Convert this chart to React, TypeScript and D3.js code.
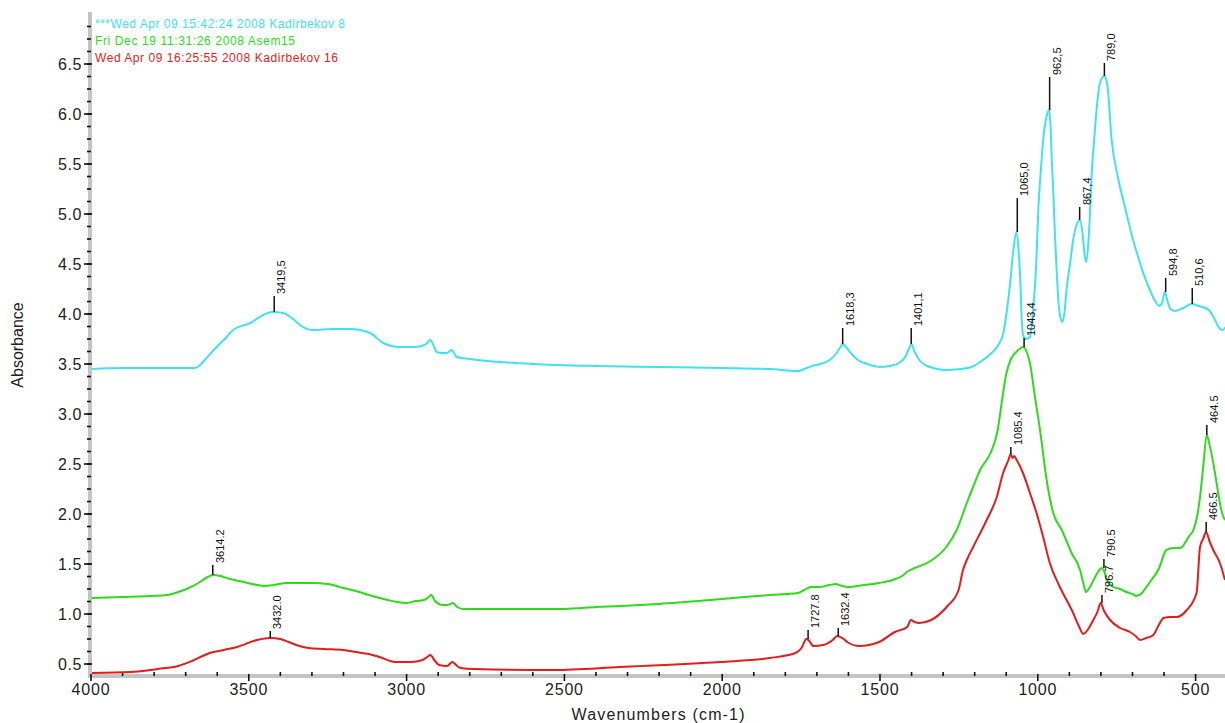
import React from "react";
import * as d3 from "d3";

// ---- data ----
const cyanWn = [4000,3900,3800,3700,3670,3634,3602,3570,3550,3496,3454,3427,3391,3360,3338,3301,3232,3179,3116,3074,3021,2975,2952,2935,2926,2915,2905,2888,2873,2857,2841,2800,2704,2600,2400,2200,2000,1850,1760,1740,1715,1690,1660,1640,1625,1618,1605,1590,1570,1540,1500,1470,1440,1420,1410,1401,1390,1373,1350,1332,1290,1247,1210,1183,1150,1125,1110,1099,1088,1078,1068,1060,1055,1051,1046,1038,1025,1014,1005,998,990,983,972,965,960,956,950,945,940,935,928,922,915,909,898,888,876,867,858,852,846,838,829,820,813,803,790,780,766,745,724,698,680,666,650,632,615,605,598,590,580,565,540,512,490,470,455,440,425,415,405];
const cyanAbs = [3.45,3.46,3.46,3.46,3.46,3.56,3.67,3.77,3.84,3.91,3.99,4.02,4.01,3.95,3.89,3.84,3.85,3.85,3.81,3.71,3.67,3.67,3.68,3.71,3.74,3.69,3.62,3.61,3.61,3.64,3.57,3.55,3.52,3.50,3.48,3.47,3.46,3.45,3.43,3.45,3.48,3.50,3.54,3.60,3.67,3.70,3.66,3.60,3.54,3.50,3.47,3.48,3.51,3.57,3.64,3.70,3.62,3.53,3.48,3.46,3.44,3.45,3.47,3.52,3.60,3.69,3.80,4.01,4.30,4.62,4.82,4.60,4.30,3.95,3.78,3.75,3.77,4.07,4.50,5.07,5.45,5.74,5.98,6.04,5.90,5.57,5.15,4.74,4.42,4.14,3.96,3.92,4.03,4.24,4.50,4.74,4.90,4.94,4.80,4.60,4.52,4.80,5.41,5.80,6.07,6.31,6.38,6.30,5.74,5.35,5.07,4.74,4.55,4.41,4.28,4.15,4.08,4.12,4.22,4.14,4.05,4.03,4.06,4.10,4.08,4.06,4.03,3.95,3.86,3.84,3.87];

const greenWn = [4000,3900,3812,3760,3724,3690,3660,3630,3614,3590,3560,3530,3490,3450,3420,3380,3300,3250,3200,3150,3098,3060,3030,3000,2970,2945,2930,2922,2910,2885,2870,2853,2840,2820,2785,2500,2400,2200,2000,1850,1760,1740,1720,1690,1660,1640,1620,1600,1550,1503,1460,1430,1410,1390,1345,1290,1257,1225,1200,1183,1150,1127,1115,1100,1085,1065,1046,1035,1025,1009,993,972,951,924,893,866,855,847,835,820,805,798,790,780,761,740,719,700,688,670,656,640,614,600,593,570,549,520,507,495,486,475,465,455,444,433,423,415,407];
const greenAbs = [1.16,1.17,1.18,1.19,1.22,1.26,1.31,1.37,1.39,1.38,1.35,1.33,1.30,1.28,1.29,1.31,1.31,1.30,1.26,1.22,1.17,1.14,1.12,1.11,1.13,1.14,1.17,1.19,1.13,1.09,1.09,1.11,1.07,1.05,1.05,1.05,1.07,1.10,1.15,1.19,1.21,1.24,1.27,1.27,1.29,1.30,1.28,1.27,1.29,1.31,1.34,1.38,1.43,1.46,1.52,1.67,1.84,2.11,2.31,2.44,2.61,2.84,3.10,3.40,3.55,3.63,3.67,3.62,3.51,3.17,2.84,2.34,2.01,1.84,1.61,1.44,1.30,1.22,1.27,1.36,1.44,1.46,1.43,1.33,1.27,1.25,1.22,1.20,1.18,1.21,1.27,1.34,1.47,1.60,1.64,1.66,1.66,1.78,1.84,1.98,2.17,2.50,2.79,2.68,2.51,2.30,2.11,2.00,1.94];

const redWn = [4000,3875,3788,3724,3680,3624,3580,3537,3474,3432,3400,3374,3340,3311,3262,3200,3161,3120,3086,3036,2986,2950,2935,2925,2910,2897,2872,2855,2840,2829,2785,2534,2324,2008,1850,1768,1749,1733,1727,1711,1680,1650,1636,1620,1604,1566,1503,1453,1414,1402,1390,1376,1338,1289,1251,1237,1225,1205,1162,1130,1110,1093,1086,1080,1075,1067,1047,1025,1004,983,962,930,888,870,856,840,824,810,801,790,771,739,708,690,676,656,634,615,602,580,560,528,497,486,475,467,455,444,423,407];
const redAbs = [0.41,0.42,0.45,0.48,0.53,0.61,0.64,0.67,0.74,0.76,0.75,0.72,0.68,0.66,0.65,0.64,0.62,0.60,0.57,0.52,0.52,0.54,0.57,0.59,0.53,0.49,0.48,0.52,0.48,0.46,0.45,0.44,0.47,0.52,0.56,0.61,0.66,0.75,0.74,0.68,0.69,0.74,0.78,0.76,0.72,0.68,0.72,0.82,0.87,0.94,0.92,0.91,0.94,1.07,1.24,1.44,1.54,1.67,1.94,2.17,2.41,2.54,2.60,2.56,2.58,2.54,2.41,2.21,2.01,1.77,1.51,1.27,1.01,0.88,0.80,0.85,0.94,1.03,1.11,1.03,0.94,0.86,0.82,0.78,0.74,0.76,0.79,0.90,0.96,0.97,0.97,1.04,1.21,1.67,1.76,1.82,1.72,1.64,1.51,1.34];

// peak labels: series index, wavenumber, absorbance at peak, marker top, text
const peakSeries = [0,0,0,0,0,0,0,0,0,1,1,1,1,2,2,2,2,2,2];
const peakWn = [3419.5,1618.3,1401.1,1065.0,962.5,867.4,789.0,594.8,510.6,3614.2,1043.4,790.5,464.5,3432.0,1727.8,1632.4,1085.4,796.7,466.5];
const peakAbs = [4.02,3.70,3.70,4.82,6.04,4.94,6.38,4.22,4.10,1.39,3.67,1.46,2.79,0.76,0.75,0.78,2.60,1.11,1.82];
const peakTop = [4.18,3.86,3.86,5.16,6.37,5.07,6.51,4.36,4.26,1.49,3.76,1.55,2.89,0.83,0.84,0.86,2.67,1.19,1.92];
const peakText = ["3419,5","1618,3","1401,1","1065,0","962,5","867,4","789,0","594,8","510,6","3614.2","1043,4","790.5","464.5","3432.0","1727.8","1632.4","1085.4","796.7","466.5"];

const legendTexts = ["***Wed Apr 09 15:42:24 2008 Kadirbekov 8","Fri Dec 19 11:31:26 2008  Asem15","Wed Apr 09 16:25:55 2008 Kadirbekov 16"];
const yTicks = [0.5,1.0,1.5,2.0,2.5,3.0,3.5,4.0,4.5,5.0,5.5,6.0,6.5];
const xTicks = [4000,3500,3000,2500,2000,1500,1000,500];

const colors = ["#3de3ee", "#2ddc18", "#e41c1c"];
const FONT = "'Liberation Sans', Arial, sans-serif";

export default function App() {
  const W = 1225, H = 723;
  const x = d3.scaleLinear().domain([4000, 400]).range([91, 91 + 3600 * 0.3156]);
  const y = d3.scaleLinear().domain([0.5, 6.5]).range([664, 64]);
  const series = [[cyanWn, cyanAbs], [greenWn, greenAbs], [redWn, redAbs]];
  const line = d3.line<[number, number]>().x(d => x(d[0])).y(d => y(d[1])).curve(d3.curveMonotoneX);

  const minorY = d3.range(0, 53).map(i => 0.375 + i * 0.125).filter(v => y(v) > 12 && y(v) < 674);
  const minorX = d3.range(4000, 399, -100).filter(v => v % 500 !== 0);
  const legendLen = [250, 200, 243];

  return (
    <svg width={W} height={H} style={{ position: "absolute", left: 0, top: 0, background: "#fff" }} fontFamily={FONT}>
      <defs>
        <clipPath id="plot"><rect x={92} y={0} width={W - 92} height={674} /></clipPath>
      </defs>
      {/* axes bands */}
      <rect x={88} y={12} width={4} height={666} fill="#c4c4c4" />
      <rect x={88} y={674} width={W - 88} height={4} fill="#c4c4c4" />
      {minorY.map((v, i) => (
        <line key={"my" + i} x1={87} x2={91} y1={y(v)} y2={y(v)} stroke="#111" strokeWidth={1.6} />
      ))}
      {yTicks.map(v => (
        <g key={"yt" + v}>
          <line x1={84} x2={92} y1={y(v)} y2={y(v)} stroke="#111" strokeWidth={1.6} />
          <text x={82} y={y(v)} dy="0.36em" textAnchor="end" fontSize={16} letterSpacing={0.6} fill="#222">{v.toFixed(1)}</text>
        </g>
      ))}
      {minorX.map(v => (
        <line key={"mx" + v} x1={x(v)} x2={x(v)} y1={672} y2={676} stroke="#111" strokeWidth={1.6} />
      ))}
      {xTicks.map(v => (
        <g key={"xt" + v}>
          <line x1={x(v)} x2={x(v)} y1={674} y2={681} stroke="#111" strokeWidth={1.6} />
          <text x={x(v)} y={695} textAnchor="middle" fontSize={16} letterSpacing={0.8} fill="#222">{v}</text>
        </g>
      ))}
      <text x={658} y={720} textAnchor="middle" fontSize={16} textLength={173} fill="#222">Wavenumbers (cm-1)</text>
      <text transform="translate(23,345) rotate(-90)" textAnchor="middle" fontSize={16} fill="#222">Absorbance</text>

      {/* spectra */}
      <g clipPath="url(#plot)">
        {series.map((s, i) => {
          const pts = (s[0] as number[]).map((w, j) => [w, (s[1] as number[])[j]] as [number, number]);
          return <path key={"s" + i} d={line(pts) || ""} fill="none" stroke={colors[i]} strokeWidth={2} strokeLinejoin="round" />;
        })}
      </g>

      {/* peak labels */}
      {peakWn.map((w, i) => {
        const px = x(w), py = y(peakAbs[i]), pt = y(peakTop[i]);
        return (
          <g key={"pk" + i}>
            <line x1={px} x2={px} y1={py} y2={pt} stroke="#111" strokeWidth={1.5} />
            <text transform={`translate(${px + 11},${pt - 2}) rotate(-90)`} fontSize={11} fill="#111">{peakText[i]}</text>
          </g>
        );
      })}

      {/* legend */}
      {legendTexts.map((t, i) => (
        <text key={"lg" + i} x={95} y={28 + i * 17} fontSize={12} textLength={legendLen[i]} fill={colors[i]}>{t}</text>
      ))}
    </svg>
  );
}
